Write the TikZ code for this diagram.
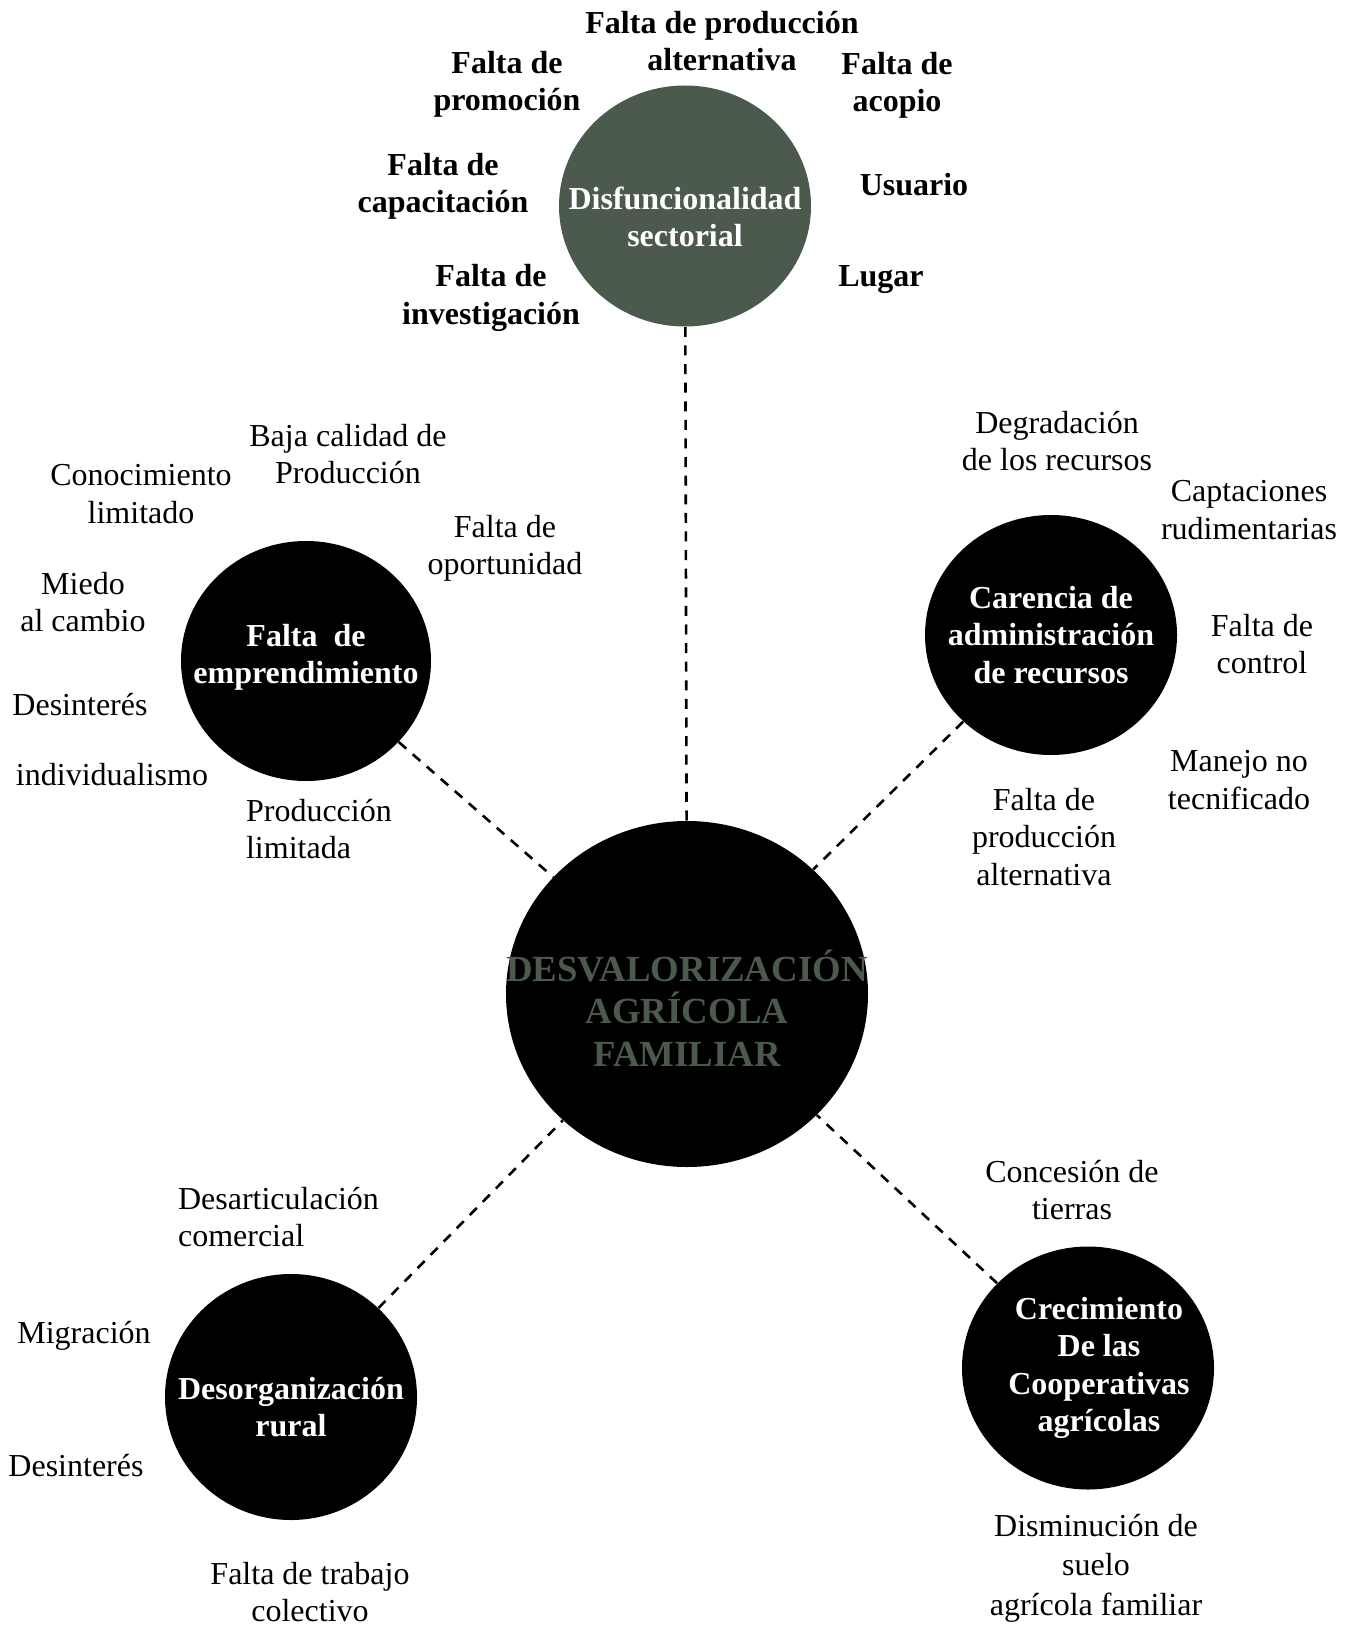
\documentclass[tikz,border=0pt]{standalone}
\usepackage{fontspec}
\setmainfont{Liberation Serif}
\usepackage{tikz}
\usetikzlibrary{shapes.geometric}
\definecolor{sage}{HTML}{4B5A4D}

\begin{document}
\begin{tikzpicture}[x=0.5pt,y=-0.5pt,
  bubble/.style={ellipse,fill=black,inner sep=0pt},
  bubtext/.style={text=white,align=center,font=\fontsize{16}{18.6}\selectfont\bfseries},
  lbl/.style={align=center,font=\fontsize{16}{18.6}\selectfont},
  blbl/.style={align=center,font=\fontsize{16}{18.6}\selectfont\bfseries},
  link/.style={line width=1.3pt,dash pattern=on 5pt off 4.3pt}]
  \useasboundingbox (0,0) rectangle (1359,1626);
  % core problem
  \node[bubble,minimum width=181pt,minimum height=173pt,
    label={[bubtext,text=sage,yshift=-7pt,font=\fontsize{18.4}{21.2}\selectfont\bfseries]center:DESVALORIZACIÓN\\AGRÍCOLA\\FAMILIAR}] (main) at (687,994) {};
  % causes
  \node[bubble,fill=sage,minimum width=126pt,minimum height=120.5pt,
    label={[bubtext,yshift=-5.5pt]center:Disfuncionalidad\\sectorial}] (sect) at (685,206) {};
  \node[bubble,minimum width=125pt,minimum height=120pt,
    label={[bubtext,yshift=2pt]center:Falta~ de\\emprendimiento}] (empr) at (306,661) {};
  \node[bubble,minimum width=126pt,minimum height=120pt,
    label={[bubtext]center:Carencia de\\administración\\de recursos}] (carenc) at (1051,635) {};
  \node[bubble,minimum width=126pt,minimum height=123pt,
    label={[bubtext,yshift=-5pt]center:Desorganización\\rural}] (desorg) at (291,1397) {};
  \node[bubble,minimum width=126pt,minimum height=121.5pt,
    label={[bubtext,xshift=5.5pt]center:Crecimiento\\De las\\Cooperativas\\agrícolas}] (coop) at (1088,1368) {};
  % dashed links
  \draw[link] (sect) -- (main);
  \draw[link] (empr) -- (main);
  \draw[link] (carenc) -- (main);
  \draw[link] (desorg) -- (main);
  \draw[link] (coop) -- (main);
  % around the sector circle
  \node[blbl] (prodalt) at (722,41) {Falta de producción\\alternativa};
  \node[blbl] (promo) at (507,84) {Falta de\\promoción};
  \node[blbl] (acopio) at (897,85) {Falta de\\acopio};
  \node[blbl] (capac) at (443,186) {Falta de\\capacitación};
  \node[blbl] (usuario) at (914,185) {Usuario};
  \node[blbl] (invest) at (491,298) {Falta de\\investigación};
  \node[blbl] (lugar) at (881,280) {Lugar};
  % around emprendimiento
  \node[lbl] (bajacal) at (348,454) {Baja calidad de\\Producción};
  \node[lbl] (conoc) at (141,494) {Conocimiento\\limitado};
  \node[lbl] (oport) at (505,548) {Falta de\\oportunidad};
  \node[lbl] (miedo) at (83,602) {Miedo\\al cambio};
  \node[lbl] (desint) at (80,705) {Desinterés};
  \node[lbl] (indiv) at (112,775) {individualismo};
  \node[lbl,align=left,anchor=west] (prodlim) at (239,829) {Producción\\limitada};
  % around recursos
  \node[lbl] (degrad) at (1057,441) {Degradación\\de los recursos};
  \node[lbl] (captac) at (1249,510) {Captaciones\\rudimentarias};
  \node[lbl] (control) at (1262,644) {Falta de\\control};
  \node[lbl] (manejo) at (1239,780) {Manejo no\\tecnificado};
  \node[lbl] (prodalt2) at (1044,837) {Falta de\\producción\\alternativa};
  % around desorganizacion
  \node[lbl,align=left,anchor=west] (desart) at (171,1217) {Desarticulación\\comercial};
  \node[lbl] (migra) at (84,1336) {Migración};
  \node[lbl] (desint2) at (76,1466) {Desinterés};
  \node[lbl] (trabajo) at (310,1592) {Falta de trabajo\\colectivo};
  % around cooperativas
  \node[lbl] (conces) at (1072,1190) {Concesión de\\tierras};
  \node[lbl,font=\fontsize{16}{19.7}\selectfont] (suelo) at (1096,1568) {Disminución de\\suelo\\agrícola familiar};
\end{tikzpicture}
\end{document}
